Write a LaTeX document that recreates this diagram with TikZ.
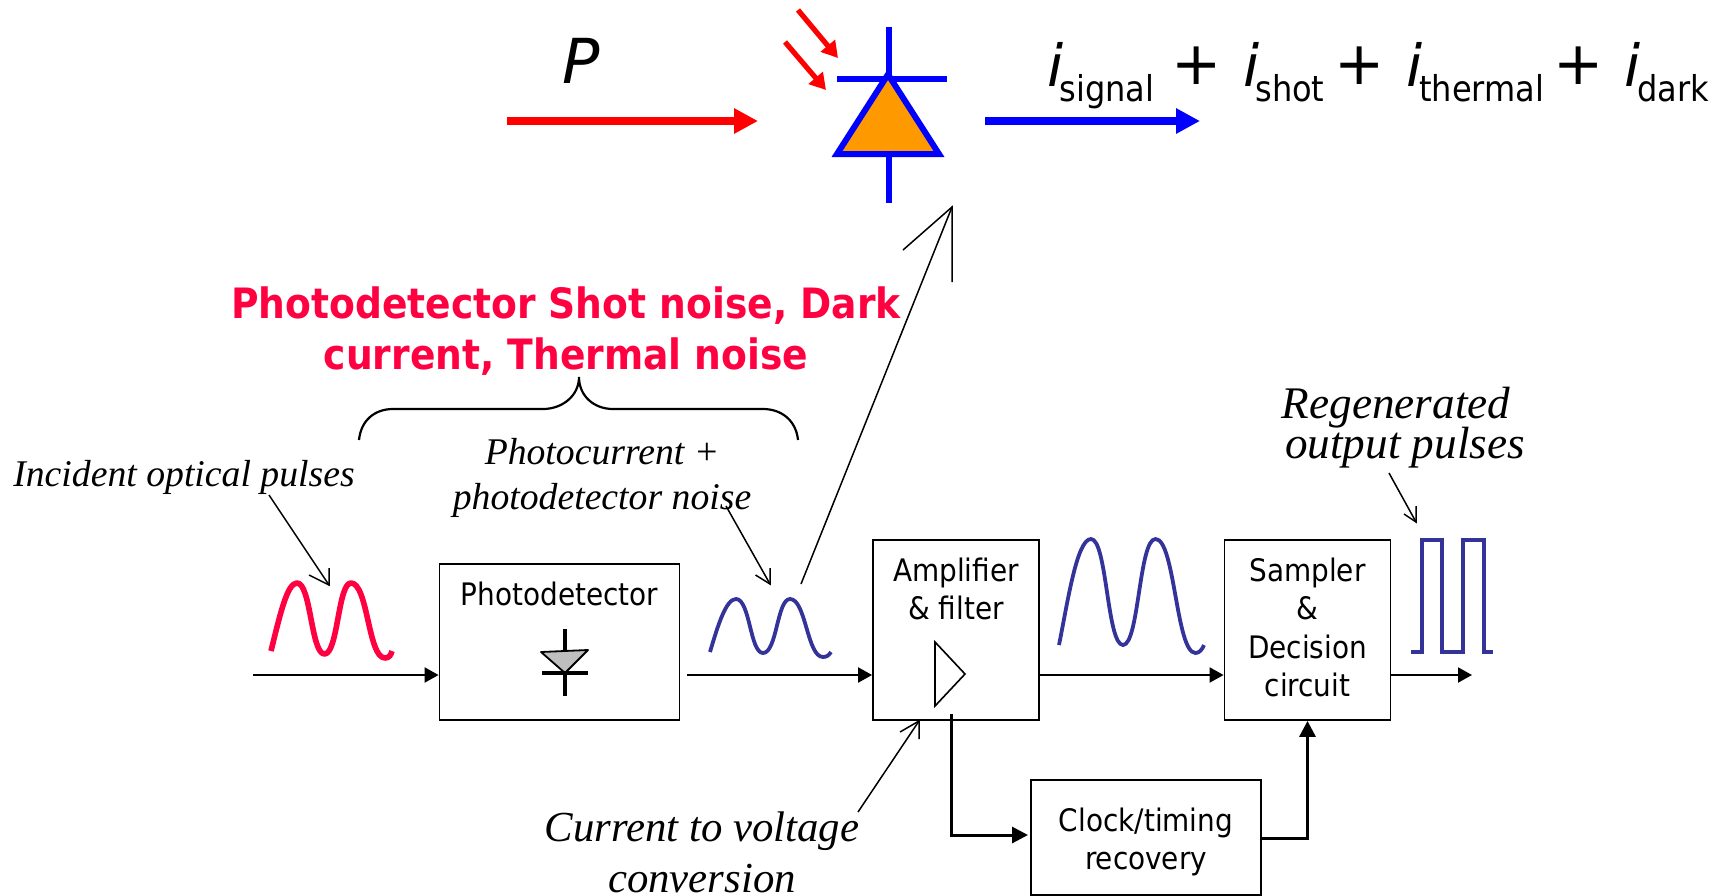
\documentclass[tikz,border=0pt]{standalone}
\usepackage{fontspec}
\setmainfont{Liberation Serif}
\newfontfamily\tah{DejaVu Sans Condensed}
\newfontfamily\verd{DejaVu Sans}
\usetikzlibrary{arrows.meta}
\definecolor{hotred}{HTML}{FF0040}
\definecolor{wblue}{HTML}{333399}
\definecolor{dorange}{HTML}{FF9900}
\tikzset{
 x=0.5pt,y=-0.5pt,
 boxn/.style={draw=black,line width=0.9pt,inner sep=0pt,align=center},
 boxt/.style={font=\tah\fontsize{15.5}{19.2}\selectfont,align=center,inner sep=0pt,text=black},
 flow/.style={draw=black,line width=1pt,-{Triangle[length=7pt,width=7.5pt]}},
 flowb/.style={draw=black,line width=1.5pt,-{Triangle[length=8pt,width=8pt]}},
 thin arrow/.style={draw=black,line width=0.75pt},
 notes/.style={font=\itshape\fontsize{18.85}{20.8}\selectfont,inner sep=0pt,align=center},
 noter/.style={font=\itshape\fontsize{22.6}{20}\selectfont,inner sep=0pt,anchor=base},
 notel/.style={font=\itshape\fontsize{21.4}{23}\selectfont,inner sep=0pt,align=center},
 title/.style={font=\tah\bfseries\fontsize{20.9}{25.5}\selectfont,text=hotred,inner sep=0pt,align=center},
 cur/.style={font=\verd\itshape\fontsize{29}{29}\selectfont,inner sep=0pt,anchor=base west},
 subs/.style={font=\tah\fontsize{17.8}{19}\selectfont,inner sep=0pt,anchor=base west},
 plus/.style={font=\verd\fontsize{30}{30}\selectfont,inner sep=0pt,anchor=base},
 redbig/.style={draw=red,line width=4pt,-{Triangle[length=12pt,width=12pt]}},
 bluebig/.style={draw=blue,line width=4pt,-{Triangle[length=12pt,width=12pt]}},
 redsmall/.style={draw=red,line width=2.6pt,-{Triangle[length=8pt,width=9pt]}},
 dio/.style={draw=blue,line width=3pt},
 wave/.style={draw=wblue,line width=1.9pt,line join=round},
}
\begin{document}
\begin{tikzpicture}
\useasboundingbox (0,0) rectangle (1725,895);
% boxes
\node[boxn,minimum width=120pt,minimum height=78pt] (pd) at (559.5,642) {};
\node[boxn,minimum width=83pt,minimum height=90pt] (amp) at (956,630) {};
\node[boxn,minimum width=83pt,minimum height=90pt] (samp) at (1307.5,630) {};
\node[boxn,minimum width=115pt,minimum height=57.5pt] (clk) at (1146,837.5) {};
\node[boxt] (pdt) at (559.5,594) {Photodetector};
\node[boxt] (ampt) at (956,589) {Amplifier\\\& filter};
\node[boxt] (sampt) at (1307.5,627.5) {Sampler\\\&\\Decision\\circuit};
\node[boxt] (clkt) at (1146,842) {Clock/timing\\recovery};
% free ends
\coordinate (in) at (253,675);
\coordinate (pdo) at (687,675);
\coordinate (out) at (1472,675);
\coordinate (ampdn) at (951,714);
\coordinate (clkin) at (1028,835);
\coordinate (clkout) at (1261,838);
% flow arrows
\draw[flow] (in) -- (in -| pd.west);
\draw[flow] (pdo) -- (pdo -| amp.west);
\draw[flow] (amp.east |- in) -- (samp.west |- in);
\draw[flow] (samp.east |- in) -- (out);
\draw[flowb] (ampdn) |- (clkin);
\draw[flowb] (clkout) -| (samp.south);
% small diode
\coordinate (d1) at (565,629); \coordinate (d2) at (565,696);
\draw[black,line width=2pt] (d1) -- (d2);
\draw[draw=black,fill=black!25,line width=0.9pt,line join=round] (541,652) -- (588,650) -- (565,673) -- cycle;
\draw[black,line width=1.6pt] (542,673) -- (588,673);
% amplifier triangle
\draw[black,line width=0.8pt] (935,642) -- (965,674) -- (935,706) -- cycle;
% waves
\draw[draw=hotred,line width=2.8pt,line join=round] (271,651) .. controls (280,615) and (287,583) .. (297,583) .. controls (311,583) and (311,654) .. (324.5,654) .. controls (338,654) and (338,583) .. (351,583) .. controls (368,583) and (368,658) .. (385,658) .. controls (389,658) and (391,655) .. (392,651);
\draw[wave] (710,652) .. controls (718,625) and (726,599) .. (736,599) .. controls (750,599) and (750,653) .. (763,653) .. controls (777,653) and (777,599) .. (790,599) .. controls (806,599) and (807,657) .. (823,657) .. controls (827,657) and (829,655) .. (831,652);
\draw[wave] (1059,645) .. controls (1068,600) and (1077,539) .. (1091,539) .. controls (1107,539) and (1107,645) .. (1123,645) .. controls (1139,645) and (1139,539) .. (1155.5,539) .. controls (1175,539) and (1176,653) .. (1195.5,653) .. controls (1199,653) and (1202,650) .. (1204,645);
\draw[wave,line join=miter] (1411,652) -- (1422,652) -- (1422,540) -- (1442,540) -- (1442,652) -- (1463,652) -- (1463,540) -- (1484,540) -- (1484,652) -- (1493,652);
% notes
\node[notes,anchor=base] (inc) at (184,486) {Incident optical pulses};
\node[notes] (pho) at (602,478) {Photocurrent +\\[1.4pt]photodetector noise};
\node[noter] (reg1) at (1396,418) {Regenerated};
\node[noter] (reg2) at (1405,458) {output pulses};
\node[notel] (cvt) at (702,852) {Current to voltage\\[2.4pt]conversion};
\coordinate (n1) at (269,495);\coordinate (n1t) at (329,585);
\draw[thin arrow] (n1) -- (n1t); \draw[thin arrow] (309,575) -- (n1t) -- (329,568);
\coordinate (n2) at (726,506);\coordinate (n2t) at (770,584);
\draw[thin arrow] (n2) -- (n2t); \draw[thin arrow] (755.5,575) -- (n2t) -- (770,568);
\coordinate (n3) at (1389,473);\coordinate (n3t) at (1416,522);
\draw[thin arrow] (n3) -- (n3t); \draw[thin arrow] (1404,514) -- (n3t) -- (1416,506);
\coordinate (n4) at (858,812);\coordinate (n4t) at (919,721);
\draw[thin arrow] (n4) -- (n4t); \draw[thin arrow] (900,732) -- (n4t) -- (919,739);
\coordinate (n5) at (801,584);\coordinate (n5t) at (952,207);
\draw[thin arrow] (n5) -- (n5t); \draw[thin arrow] (903,250) -- (n5t) -- (952,282);
% brace
\coordinate (bl) at (359,440);\coordinate (br) at (798,440);\coordinate (bt) at (579,377);
\draw[black,line width=1.1pt] (bl) .. controls (361,420) and (375,409) .. (393,409) -- (543,409) .. controls (562,409) and (579,396) .. (bt) .. controls (579,396) and (594,409) .. (613,409) -- (763,409) .. controls (781,409) and (796,420) .. (br);
% title
\node[title] (ttl) at (566,331) {Photodetector Shot noise, Dark\\current, Thermal noise};
% top
\node[cur,font=\verd\itshape\fontsize{31}{31}\selectfont] (P) at (562,83) {P};
\coordinate (ra) at (507,121);\coordinate (rb) at (758,121);
\draw[redbig] (ra) -- (rb);
\coordinate (s1a) at (798,10);\coordinate (s1b) at (838,58);
\coordinate (s2a) at (785,42);\coordinate (s2b) at (826,90);
\draw[redsmall] (s1a) -- (s1b);
\draw[redsmall] (s2a) -- (s2b);
\draw[dio] (889,27) -- (889,79);
\draw[dio] (889,154) -- (889,203);
\draw[dio] (837,79) -- (947,79);
\draw[dio,fill=dorange,line join=miter] (888,74.4) -- (939,154) -- (837,154) -- cycle;
\coordinate (ba) at (985,121);\coordinate (bb) at (1200,121);
\draw[bluebig] (ba) -- (bb);
\node[cur] (i1) at (1047,86) {i};
\node[subs] (s1) at (1059,101) {signal};
\node[plus] (p1) at (1197,84) {+};
\node[cur] (i2) at (1243,86) {i};
\node[subs] (s2) at (1255,101) {shot};
\node[plus] (p2) at (1360,84) {+};
\node[cur] (i3) at (1406,86) {i};
\node[subs] (s3) at (1419,101) {thermal};
\node[plus] (p3) at (1579,84) {+};
\node[cur] (i4) at (1624,86) {i};
\node[subs] (s4) at (1637,101) {dark};
\end{tikzpicture}
\end{document}
